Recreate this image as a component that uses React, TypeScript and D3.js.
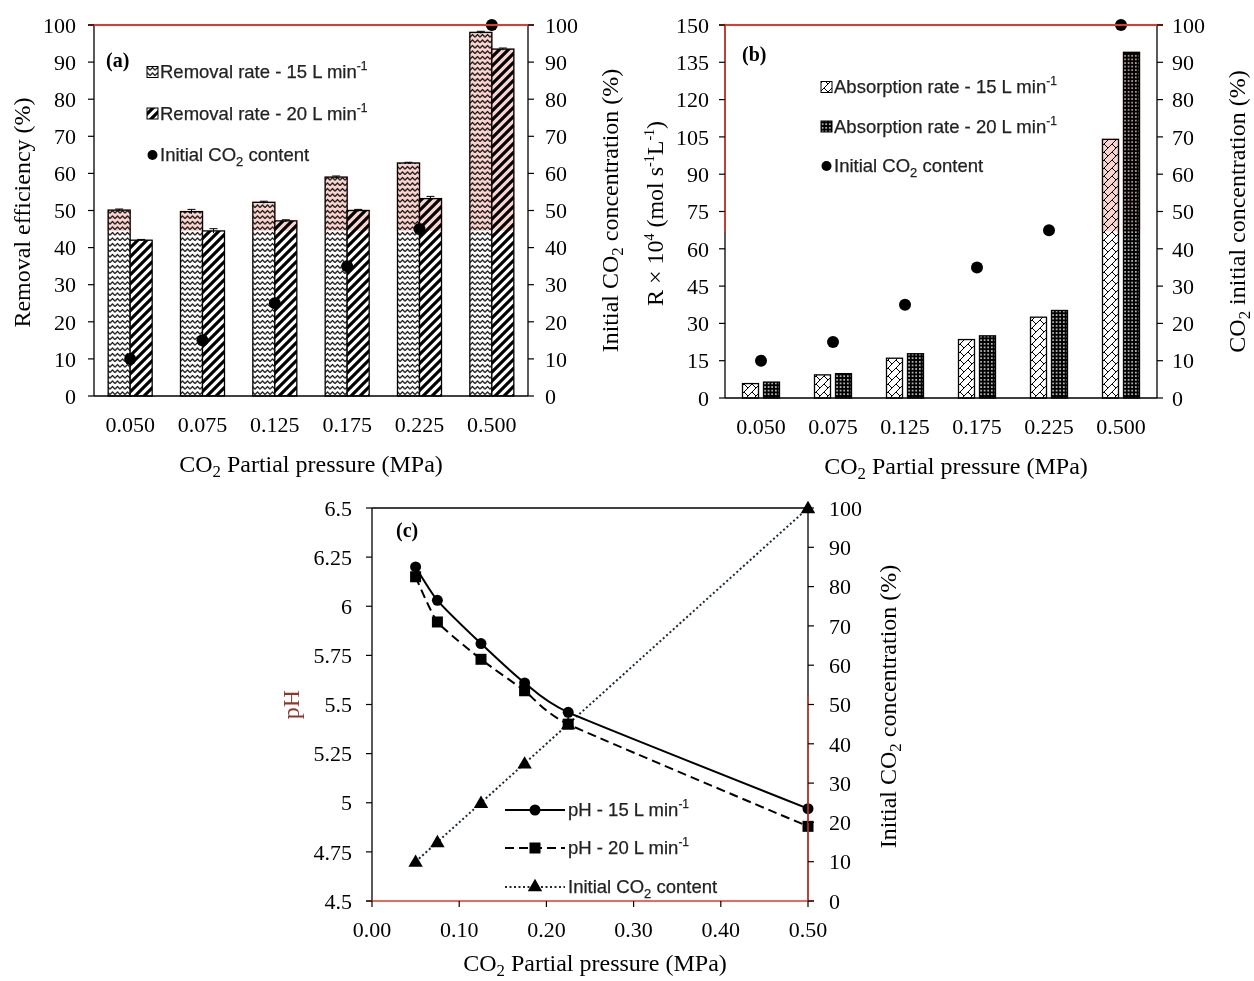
import * as d3 from "d3";

const categories = ["0.050", "0.075", "0.125", "0.175", "0.225", "0.500"];
const pressure = [0.05, 0.075, 0.125, 0.175, 0.225, 0.5];
const initialCO2 = [10, 15, 25, 35, 45, 100];

// panel (a) removal efficiency (%)
const removal15 = [50.1, 49.7, 52.2, 59.0, 62.8, 98.0];
const removal20 = [42.0, 44.5, 47.2, 50.0, 53.2, 93.5];
const removal15Err = [0.3, 0.6, 0.3, 0.3, 0.2, 0.3];
const removal20Err = [0.2, 0.6, 0.3, 0.3, 0.6, 0.3];

// panel (b) absorption rate R x 10^4
const absorption15 = [5.8, 9.3, 16.0, 23.5, 32.5, 104.0];
const absorption20 = [6.4, 9.8, 17.8, 25.0, 35.2, 139.0];

// panel (c) pH
const ph15 = [6.2, 6.03, 5.81, 5.61, 5.46, 4.97];
const ph20 = [6.15, 5.92, 5.73, 5.57, 5.4, 4.88];

const pctTicks = [0, 10, 20, 30, 40, 50, 60, 70, 80, 90, 100];
const rateTicks = [0, 15, 30, 45, 60, 75, 90, 105, 120, 135, 150];
const phTicks = [4.5, 4.75, 5, 5.25, 5.5, 5.75, 6, 6.25, 6.5];
const pressureTicks = [0, 0.1, 0.2, 0.3, 0.4, 0.5];

const SERIF = "'Liberation Serif', 'Times New Roman', serif";
const SANS = "'Liberation Sans', Arial, sans-serif";
const RED = "#dd3b2c";
const TICK_FS = 22;
const TITLE_FS = 24;
const LEG_FS = 18.5;

const Sub = ({ children }: any) => (
  <tspan dy="5" fontSize="0.7em">{children}</tspan>
);

function YTicks({ scale, ticks, x, side, fmt, dx, color }: any) {
  return (
    <g>
      {ticks.map((t: number) => (
        <g key={t}>
          <line x1={x} x2={x + (side === "left" ? -6 : 6)} y1={scale(t)} y2={scale(t)} stroke={color || "#000"} strokeWidth={1.2} />
          <text
            x={x + (side === "left" ? -dx : dx)}
            y={scale(t)}
            dy="0.35em"
            textAnchor={side === "left" ? "end" : "start"}
            fontFamily={SERIF}
            fontSize={TICK_FS}
          >
            {fmt ? fmt(t) : t}
          </text>
        </g>
      ))}
    </g>
  );
}

function BarPanel(props: any) {
  const { box, s1, s2, err1, err2, yMax, yTicks, pat1, pat2, barW, gap, tintAt, label, legend, leftTitle, rightTitle, titleX, leftTitleX, rightTitleX, leftLabelDx, rightLabelDx, redLeft } = props;
  const x = d3.scaleBand().domain(categories).range([box.left, box.right]);
  const y = d3.scaleLinear().domain([0, yMax]).range([box.bottom, box.top]);
  const y2 = d3.scaleLinear().domain([0, 100]).range([box.bottom, box.top]);
  const cx = (c: string) => (x(c) as number) + x.bandwidth() / 2;
  const tintY = y(tintAt);
  const bars = [
    { vals: s1, errs: err1, pat: pat1, off: -gap / 2 - barW },
    { vals: s2, errs: err2, pat: pat2, off: gap / 2 },
  ];
  const midY = (box.top + box.bottom) / 2;
  return (
    <g>
      {bars.map((b, bi) =>
        categories.map((c, i) => {
          const x0 = cx(c) + b.off;
          const top = y(b.vals[i]);
          return (
            <g key={`${bi}-${c}`}>
              <rect x={x0} y={top} width={barW} height={box.bottom - top} fill="#fff" />
              <rect x={x0} y={top} width={barW} height={box.bottom - top} fill={`url(#${b.pat})`} stroke="#000" strokeWidth={1.3} />
              {top < tintY && (
                <rect x={x0 - 1} y={top - 1} width={barW + 2} height={tintY - top + 1} fill="#f07a68" opacity={0.33} style={{ mixBlendMode: "multiply" }} />
              )}
              {b.errs && (
                <g stroke="#000" strokeWidth={1}>
                  <line x1={x0 + barW / 2} x2={x0 + barW / 2} y1={y(b.vals[i] + b.errs[i])} y2={y(b.vals[i] - b.errs[i])} />
                  <line x1={x0 + barW / 2 - 4} x2={x0 + barW / 2 + 4} y1={y(b.vals[i] + b.errs[i])} y2={y(b.vals[i] + b.errs[i])} />
                </g>
              )}
            </g>
          );
        })
      )}
      {categories.map((c, i) => (
        <circle key={c} cx={cx(c)} cy={y2(initialCO2[i])} r={6} fill="#000" />
      ))}
      {/* axes */}
      <line x1={box.left} x2={box.left} y1={box.top} y2={box.bottom} stroke="#000" strokeWidth={1.3} />
      {redLeft && <line x1={box.left} x2={box.left} y1={box.top} y2={y(redLeft)} stroke={RED} strokeWidth={1.5} />}
      <line x1={box.right} x2={box.right} y1={box.top} y2={box.bottom} stroke="#000" strokeWidth={1.3} />
      <line x1={box.left} x2={box.right} y1={box.bottom} y2={box.bottom} stroke="#000" strokeWidth={1.3} />
      <line x1={box.left - 6} x2={box.right + 6} y1={box.top} y2={box.top} stroke={RED} strokeWidth={1.8} />
      <YTicks scale={y} ticks={yTicks} x={box.left} side="left" dx={leftLabelDx} />
      <YTicks scale={y2} ticks={pctTicks} x={box.right} side="right" dx={rightLabelDx} />
      {categories.map((c) => (
        <text key={c} x={cx(c)} y={box.bottom + 28} dy="0.35em" textAnchor="middle" fontFamily={SERIF} fontSize={TICK_FS}>
          {c}
        </text>
      ))}
      <text x={titleX} y={box.bottom + 68} dy="0.35em" textAnchor="middle" fontFamily={SERIF} fontSize={TITLE_FS}>
        CO<Sub>2</Sub>
        <tspan dy="-5"> Partial pressure (MPa)</tspan>
      </text>
      <text transform={`translate(${leftTitleX},${midY + 2}) rotate(-90)`} textAnchor="middle" dy="0.35em" fontFamily={SERIF} fontSize={TITLE_FS}>
        {leftTitle}
      </text>
      <text transform={`translate(${rightTitleX},${midY}) rotate(-90)`} textAnchor="middle" dy="0.35em" fontFamily={SERIF} fontSize={TITLE_FS}>
        {rightTitle}
      </text>
      <text x={label.x} y={label.y} dy="0.35em" fontFamily={SERIF} fontWeight="bold" fontSize={20}>
        {label.text}
      </text>
      {legend.items.map((it: any, i: number) => {
        const ly = legend.y + i * legend.step;
        return (
          <g key={i}>
            {it.pat ? (
              <rect x={legend.x} y={ly - 5.5} width={11} height={11} fill={`url(#${it.pat})`} stroke="#000" strokeWidth={1} />
            ) : (
              <circle cx={legend.x + 5.5} cy={ly} r={5} fill="#000" />
            )}
            <text x={legend.x + 13} y={ly} dy="0.35em" fontFamily={SANS} fontSize={LEG_FS} fill="#222" stroke="#222" strokeWidth={0.25}>
              {it.text}
            </text>
          </g>
        );
      })}
    </g>
  );
}

const MinInv = () => (
  <>
    {" L min"}
    <tspan dy="-8" fontSize="12">-1</tspan>
  </>
);

function PhPanel() {
  const box = { left: 372, right: 808, top: 508, bottom: 901 };
  const x = d3.scaleLinear().domain([0, 0.5]).range([box.left, box.right]);
  const y = d3.scaleLinear().domain([4.5, 6.5]).range([box.bottom, box.top]);
  const y2 = d3.scaleLinear().domain([0, 100]).range([box.bottom, box.top]);
  const smooth = d3.line<number>().x((_, i) => x(pressure[i])).y((d) => y(d)).curve(d3.curveCardinal.tension(0.5));
  const straight = d3.line<number>().x((_, i) => x(pressure[i])).y((d) => y2(d));
  const tri = d3.symbol().type(d3.symbolTriangle).size(90);
  const midY = (box.top + box.bottom) / 2;
  const legY = [810, 848, 887];
  return (
    <g>
      <path d={straight(initialCO2) as string} fill="none" stroke="#1d2a33" strokeWidth={2} strokeDasharray="2 2.5" />
      <path d={smooth(ph20) as string} fill="none" stroke="#000" strokeWidth={2} strokeDasharray="9 5" />
      <path d={smooth(ph15) as string} fill="none" stroke="#000" strokeWidth={2} />
      {pressure.map((p, i) => (
        <g key={p}>
          <path d={tri() as string} transform={`translate(${x(p)},${y2(initialCO2[i]) + 1})`} fill="#000" />
          <rect x={x(p) - 5.5} y={y(ph20[i]) - 5.5} width={11} height={11} fill="#000" />
          <circle cx={x(p)} cy={y(ph15[i])} r={5.5} fill="#000" />
        </g>
      ))}
      <line x1={box.left} x2={box.left} y1={box.top} y2={box.bottom} stroke="#000" strokeWidth={1.3} />
      <line x1={box.right} x2={box.right} y1={box.top} y2={box.bottom} stroke="#000" strokeWidth={1.3} />
      <line x1={box.right} x2={box.right} y1={y2(52)} y2={box.bottom} stroke={RED} strokeWidth={1.4} />
      <line x1={box.left} x2={box.right} y1={box.top} y2={box.top} stroke="#000" strokeWidth={1.3} />
      <line x1={box.left - 6} x2={box.right + 6} y1={box.bottom} y2={box.bottom} stroke={RED} strokeWidth={1.6} />
      {pressureTicks.map((t) => (
        <g key={t}>
          <line x1={x(t)} x2={x(t)} y1={box.bottom} y2={box.bottom + 6} stroke="#000" strokeWidth={1.2} />
          <text x={x(t)} y={box.bottom + 28} dy="0.35em" textAnchor="middle" fontFamily={SERIF} fontSize={TICK_FS}>
            {t.toFixed(2)}
          </text>
        </g>
      ))}
      <YTicks scale={y} ticks={phTicks} x={box.left} side="left" dx={20} fmt={(t: number) => String(t)} />
      <YTicks scale={y2} ticks={pctTicks} x={box.right} side="right" dx={21} />
      <text x={595} y={963} dy="0.35em" textAnchor="middle" fontFamily={SERIF} fontSize={TITLE_FS}>
        CO<Sub>2</Sub>
        <tspan dy="-5"> Partial pressure (MPa)</tspan>
      </text>
      <text transform={`translate(291,${midY}) rotate(-90)`} textAnchor="middle" dy="0.35em" fontFamily={SERIF} fontSize={TITLE_FS} fill="#8a3a2c">
        pH
      </text>
      <text transform={`translate(888,${midY + 2}) rotate(-90)`} textAnchor="middle" dy="0.35em" fontFamily={SERIF} fontSize={TITLE_FS}>
        Initial CO<Sub>2</Sub>
        <tspan dy="-5"> concentration (%)</tspan>
      </text>
      <text x={396} y={530} dy="0.35em" fontFamily={SERIF} fontWeight="bold" fontSize={20}>
        (c)
      </text>
      {/* legend */}
      <line x1={505} x2={565} y1={legY[0]} y2={legY[0]} stroke="#000" strokeWidth={2} />
      <circle cx={535} cy={legY[0]} r={5.5} fill="#000" />
      <line x1={505} x2={565} y1={legY[1]} y2={legY[1]} stroke="#000" strokeWidth={2} strokeDasharray="9 5" />
      <rect x={529.5} y={legY[1] - 5.5} width={11} height={11} fill="#000" />
      <line x1={505} x2={565} y1={legY[2]} y2={legY[2]} stroke="#1d2a33" strokeWidth={2} strokeDasharray="2 2.5" />
      <path d={tri() as string} transform={`translate(535,${legY[2]})`} fill="#000" />
      {[
        <>pH - 15<MinInv /></>,
        <>pH - 20<MinInv /></>,
        <>Initial CO<Sub>2</Sub><tspan dy="-5"> content</tspan></>,
      ].map((t, i) => (
        <text key={i} x={568} y={legY[i]} dy="0.35em" fontFamily={SANS} fontSize={LEG_FS} fill="#222" stroke="#222" strokeWidth={0.25}>
          {t}
        </text>
      ))}
    </g>
  );
}

export default function App() {
  return (
    <svg width={1254} height={981} style={{ position: "absolute", left: 0, top: 0, background: "#fff" }}>
      <defs>
        <pattern id="zigzag" width={5} height={5.5} patternUnits="userSpaceOnUse">
          <rect width={5} height={5.5} fill="#fff" />
          <path d="M0 4.2 L2.5 1.5 L5 4.2" fill="none" stroke="#000" strokeWidth={1.2} />
        </pattern>
        <pattern id="stripes" width={9} height={9} patternUnits="userSpaceOnUse">
          <rect width={9} height={9} fill="#fff" />
          <path d="M-2 11 L11 -2 M-2 2 L2 -2 M7 11 L11 7" stroke="#000" strokeWidth={3.2} />
        </pattern>
        <pattern id="cross" width={8} height={8} patternUnits="userSpaceOnUse">
          <rect width={8} height={8} fill="#fff" />
          <path d="M0 8 L8 0 M0 0 L4 4" stroke="#000" strokeWidth={1} fill="none" />
        </pattern>
        <pattern id="dots" width={3.6} height={3.6} patternUnits="userSpaceOnUse">
          <rect width={3.6} height={3.6} fill="#000" />
          <circle cx={1.8} cy={1.8} r={0.85} fill="#fff" />
        </pattern>
      </defs>
      <BarPanel
        box={{ left: 94, right: 528, top: 25, bottom: 396 }}
        s1={removal15}
        s2={removal20}
        err1={removal15Err}
        err2={removal20Err}
        yMax={100}
        yTicks={pctTicks}
        pat1="zigzag"
        pat2="stripes"
        barW={22}
        gap={0}
        tintAt={44.5}
        label={{ x: 106, y: 60, text: "(a)" }}
        legend={{
          x: 147,
          y: 72,
          step: 41.5,
          items: [
            { pat: "zigzag", text: <>Removal rate - 15<MinInv /></> },
            { pat: "stripes", text: <>Removal rate - 20<MinInv /></> },
            { text: <>Initial CO<Sub>2</Sub><tspan dy="-5"> content</tspan></> },
          ],
        }}
        leftTitle="Removal efficiency (%)"
        rightTitle={<>Initial CO<Sub>2</Sub><tspan dy="-5"> concentration (%)</tspan></>}
        titleX={311}
        leftTitleX={22}
        rightTitleX={610}
        leftLabelDx={18}
        rightLabelDx={17}
      />
      <BarPanel
        box={{ left: 725, right: 1157, top: 25, bottom: 398 }}
        s1={absorption15}
        s2={absorption20}
        yMax={150}
        yTicks={rateTicks}
        pat1="cross"
        pat2="dots"
        barW={16}
        gap={5}
        tintAt={67}
        redLeft={67}
        label={{ x: 742, y: 54, text: "(b)" }}
        legend={{
          x: 821,
          y: 87,
          step: 39.5,
          items: [
            { pat: "cross", text: <>Absorption rate - 15<MinInv /></> },
            { pat: "dots", text: <>Absorption rate - 20<MinInv /></> },
            { text: <>Initial CO<Sub>2</Sub><tspan dy="-5"> content</tspan></> },
          ],
        }}
        leftTitle={
          <>
            R × 10<tspan dy="-9" fontSize="14">4</tspan>
            <tspan dy="9"> (mol s</tspan>
            <tspan dy="-9" fontSize="14">-1</tspan>
            <tspan dy="9">L</tspan>
            <tspan dy="-9" fontSize="14">-1</tspan>
            <tspan dy="9">)</tspan>
          </>
        }
        rightTitle={<>CO<Sub>2</Sub><tspan dy="-5"> initial concentration (%)</tspan></>}
        titleX={956}
        leftTitleX={655}
        rightTitleX={1237}
        leftLabelDx={16}
        rightLabelDx={15}
      />
      <PhPanel />
    </svg>
  );
}
